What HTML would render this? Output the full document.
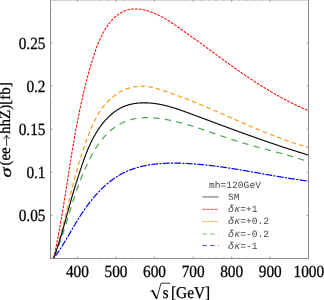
<!DOCTYPE html>
<html><head><meta charset="utf-8"><title>plot</title>
<style>
html,body{margin:0;padding:0;background:#fff;}
svg{display:block;will-change:transform;}
text{text-rendering:geometricPrecision;}
.t{font-family:"Liberation Serif",serif;font-size:15.3px;fill:#000;stroke:#000;stroke-width:0.25px;}
.a{font-family:"Liberation Serif",serif;font-size:15px;fill:#000;stroke:#000;stroke-width:0.25px;}
.m{font-family:"Liberation Mono",monospace;font-size:9.6px;fill:#484848;}
</style></head>
<body>
<svg width="324" height="300" viewBox="0 0 324 300">
<rect width="324" height="300" fill="#fff"/>
<path d="M77.40 258.45 v-1.9 M77.40 -0.15 v1.9 M115.97 258.45 v-1.9 M115.97 -0.15 v1.9 M154.54 258.45 v-1.9 M154.54 -0.15 v1.9 M193.11 258.45 v-1.9 M193.11 -0.15 v1.9 M231.68 258.45 v-1.9 M231.68 -0.15 v1.9 M270.25 258.45 v-1.9 M270.25 -0.15 v1.9 M50.55 215.41 h1.9 M308.55 215.41 h-1.9 M50.55 172.32 h1.9 M308.55 172.32 h-1.9 M50.55 129.23 h1.9 M308.55 129.23 h-1.9 M50.55 86.14 h1.9 M308.55 86.14 h-1.9 M50.55 43.05 h1.9 M308.55 43.05 h-1.9" stroke="#9a9a9a" stroke-width="1" fill="none"/>
<path d="M54.26 258.45 v-1.2 M54.26 -0.15 v1.2 M61.97 258.45 v-1.2 M61.97 -0.15 v1.2 M69.69 258.45 v-1.2 M69.69 -0.15 v1.2 M85.11 258.45 v-1.2 M85.11 -0.15 v1.2 M92.83 258.45 v-1.2 M92.83 -0.15 v1.2 M100.54 258.45 v-1.2 M100.54 -0.15 v1.2 M108.26 258.45 v-1.2 M108.26 -0.15 v1.2 M123.68 258.45 v-1.2 M123.68 -0.15 v1.2 M131.40 258.45 v-1.2 M131.40 -0.15 v1.2 M139.11 258.45 v-1.2 M139.11 -0.15 v1.2 M146.83 258.45 v-1.2 M146.83 -0.15 v1.2 M162.25 258.45 v-1.2 M162.25 -0.15 v1.2 M169.97 258.45 v-1.2 M169.97 -0.15 v1.2 M177.68 258.45 v-1.2 M177.68 -0.15 v1.2 M185.40 258.45 v-1.2 M185.40 -0.15 v1.2 M200.82 258.45 v-1.2 M200.82 -0.15 v1.2 M208.54 258.45 v-1.2 M208.54 -0.15 v1.2 M216.25 258.45 v-1.2 M216.25 -0.15 v1.2 M223.97 258.45 v-1.2 M223.97 -0.15 v1.2 M239.39 258.45 v-1.2 M239.39 -0.15 v1.2 M247.11 258.45 v-1.2 M247.11 -0.15 v1.2 M254.82 258.45 v-1.2 M254.82 -0.15 v1.2 M262.54 258.45 v-1.2 M262.54 -0.15 v1.2 M277.96 258.45 v-1.2 M277.96 -0.15 v1.2 M285.68 258.45 v-1.2 M285.68 -0.15 v1.2 M293.39 258.45 v-1.2 M293.39 -0.15 v1.2 M301.11 258.45 v-1.2 M301.11 -0.15 v1.2 M50.55 249.88 h1.2 M308.55 249.88 h-1.2 M50.55 241.26 h1.2 M308.55 241.26 h-1.2 M50.55 232.65 h1.2 M308.55 232.65 h-1.2 M50.55 224.03 h1.2 M308.55 224.03 h-1.2 M50.55 206.79 h1.2 M308.55 206.79 h-1.2 M50.55 198.17 h1.2 M308.55 198.17 h-1.2 M50.55 189.56 h1.2 M308.55 189.56 h-1.2 M50.55 180.94 h1.2 M308.55 180.94 h-1.2 M50.55 163.70 h1.2 M308.55 163.70 h-1.2 M50.55 155.08 h1.2 M308.55 155.08 h-1.2 M50.55 146.47 h1.2 M308.55 146.47 h-1.2 M50.55 137.85 h1.2 M308.55 137.85 h-1.2 M50.55 120.61 h1.2 M308.55 120.61 h-1.2 M50.55 111.99 h1.2 M308.55 111.99 h-1.2 M50.55 103.38 h1.2 M308.55 103.38 h-1.2 M50.55 94.76 h1.2 M308.55 94.76 h-1.2 M50.55 77.52 h1.2 M308.55 77.52 h-1.2 M50.55 68.90 h1.2 M308.55 68.90 h-1.2 M50.55 60.29 h1.2 M308.55 60.29 h-1.2 M50.55 51.67 h1.2 M308.55 51.67 h-1.2 M50.55 34.43 h1.2 M308.55 34.43 h-1.2 M50.55 25.81 h1.2 M308.55 25.81 h-1.2 M50.55 17.20 h1.2 M308.55 17.20 h-1.2 M50.55 8.58 h1.2 M308.55 8.58 h-1.2" stroke="#aaa" stroke-width="0.6" fill="none"/>
<path d="M53.87 257.95 L54.12 257.63 L54.37 257.31 L54.62 256.98 L54.86 256.66 L55.11 256.33 L55.35 256.01 L55.60 255.68 L55.84 255.35 L56.08 255.02 L56.32 254.69 L56.56 254.36 L56.80 254.02 L57.04 253.69 L57.27 253.35 L57.51 253.02 L57.75 252.68 L57.98 252.34 L58.22 252.00 L58.45 251.66 L58.68 251.32 L58.91 250.98 L59.14 250.64 L59.37 250.29 L59.60 249.95 L59.83 249.60 L60.06 249.26 L60.29 248.91 L60.52 248.56 L60.74 248.21 L60.97 247.86 L61.20 247.51 L61.42 247.16 L61.65 246.81 L61.87 246.46 L62.09 246.10 L62.32 245.75 L62.54 245.40 L62.76 245.04 L62.98 244.68 L63.20 244.33 L63.43 243.97 L63.65 243.61 L63.87 243.25 L64.09 242.89 L64.31 242.53 L64.52 242.17 L64.74 241.81 L64.96 241.45 L65.18 241.09 L65.40 240.73 L65.62 240.36 L65.83 240.00 L66.05 239.63 L66.27 239.27 L66.49 238.90 L66.70 238.54 L66.92 238.17 L67.14 237.81 L67.35 237.44 L67.57 237.07 L67.79 236.70 L68.00 236.34 L68.22 235.97 L68.43 235.60 L68.65 235.23 L68.87 234.86 L69.08 234.49 L69.30 234.12 L69.51 233.75 L69.73 233.38 L69.95 233.01 L70.16 232.64 L70.38 232.27 L70.60 231.89 L70.81 231.52 L71.03 231.15 L71.25 230.78 L71.47 230.41 L71.68 230.03 L71.90 229.66 L72.12 229.29 L72.34 228.91 L72.55 228.54 L72.77 228.17 L72.99 227.80 L73.21 227.42 L73.43 227.05 L73.65 226.68 L73.87 226.30 L74.09 225.93 L74.31 225.55 L74.53 225.18 L74.76 224.81 L74.98 224.43 L75.20 224.06 L75.43 223.69 L75.65 223.31 L75.87 222.94 L76.10 222.57 L76.32 222.20 L76.55 221.82 L76.78 221.45 L77.00 221.08 L77.23 220.71 L77.46 220.33 L77.69 219.96 L77.92 219.59 L78.15 219.22 L78.38 218.85 L78.61 218.48 L78.84 218.10 L79.07 217.73 L79.31 217.36 L79.54 216.99 L79.78 216.62 L80.01 216.25 L80.25 215.89 L80.48 215.52 L80.72 215.15 L80.96 214.78 L81.20 214.41 L81.44 214.05 L81.68 213.68 L81.93 213.31 L82.17 212.95 L82.41 212.58 L82.66 212.22 L82.90 211.85 L83.15 211.49 L83.40 211.12 L83.65 210.76 L83.90 210.40 L84.15 210.04 L84.40 209.67 L84.65 209.31 L84.90 208.95 L85.15 208.59 L85.41 208.23 L85.66 207.88 L85.92 207.52 L86.18 207.16 L86.44 206.80 L86.69 206.45 L86.95 206.09 L87.21 205.74 L87.47 205.39 L87.74 205.03 L88.00 204.68 L88.26 204.33 L88.53 203.98 L88.79 203.63 L89.06 203.28 L89.33 202.93 L89.60 202.58 L89.87 202.23 L90.14 201.89 L90.41 201.54 L90.68 201.20 L90.95 200.86 L91.23 200.51 L91.50 200.17 L91.78 199.83 L92.05 199.49 L92.33 199.15 L92.61 198.81 L92.89 198.48 L93.17 198.14 L93.45 197.81 L93.73 197.47 L94.01 197.14 L94.29 196.81 L94.58 196.48 L94.86 196.15 L95.15 195.82 L95.44 195.49 L95.73 195.16 L96.02 194.84 L96.31 194.51 L96.60 194.19 L96.89 193.87 L97.18 193.55 L97.47 193.23 L97.77 192.91 L98.06 192.59 L98.36 192.27 L98.66 191.96 L98.96 191.65 L99.26 191.33 L99.56 191.02 L99.86 190.71 L100.16 190.40 L100.46 190.10 L100.77 189.79 L101.07 189.49 L101.38 189.18 L101.68 188.88 L101.99 188.58 L102.30 188.28 L102.61 187.99 L102.92 187.69 L103.23 187.40 L103.54 187.10 L103.86 186.81 L104.17 186.52 L104.49 186.23 L104.80 185.94 L105.12 185.66 L105.44 185.37 L105.76 185.09 L106.08 184.81 L106.40 184.53 L106.72 184.25 L107.04 183.97 L107.37 183.70 L107.69 183.43 L108.02 183.15 L108.34 182.88 L108.67 182.62 L109.00 182.35 L109.33 182.08 L109.66 181.82 L109.99 181.56 L110.33 181.30 L110.66 181.04 L111.00 180.78 L111.33 180.53 L111.67 180.27 L112.01 180.02 L112.34 179.77 L112.68 179.53 L113.02 179.28 L113.37 179.04 L113.71 178.79 L114.05 178.55 L114.40 178.31 L114.74 178.08 L115.09 177.84 L115.44 177.61 L115.79 177.38 L116.13 177.15 L116.49 176.92 L116.84 176.70 L117.19 176.47 L117.54 176.25 L117.90 176.03 L118.25 175.81 L118.61 175.60 L118.97 175.39 L119.33 175.17 L119.69 174.96 L120.05 174.76 L120.41 174.55 L120.77 174.35 L121.14 174.15 L121.50 173.95 L121.87 173.75 L122.23 173.56 L122.60 173.37 L122.97 173.18 L123.34 172.99 L123.71 172.80 L124.08 172.62 L124.46 172.44 L124.83 172.26 L125.21 172.08 L125.58 171.90 L125.96 171.73 L126.34 171.56 L126.72 171.39 L127.10 171.22 L127.48 171.06 L127.86 170.89 L128.24 170.73 L128.62 170.57 L129.01 170.42 L129.39 170.26 L129.78 170.11 L130.17 169.96 L130.56 169.81 L130.94 169.66 L131.33 169.52 L131.72 169.37 L132.12 169.23 L132.51 169.09 L132.90 168.95 L133.29 168.82 L133.69 168.68 L134.09 168.55 L134.48 168.42 L134.88 168.29 L135.28 168.17 L135.68 168.04 L136.07 167.92 L136.47 167.80 L136.88 167.68 L137.28 167.56 L137.68 167.45 L138.08 167.33 L138.49 167.22 L138.89 167.11 L139.30 167.00 L139.70 166.90 L140.11 166.79 L140.52 166.69 L140.92 166.59 L141.33 166.49 L141.74 166.39 L142.15 166.29 L142.56 166.20 L142.97 166.10 L143.39 166.01 L143.80 165.92 L144.21 165.83 L144.63 165.75 L145.04 165.66 L145.46 165.58 L145.87 165.49 L146.29 165.41 L146.70 165.34 L147.12 165.26 L147.54 165.18 L147.96 165.11 L148.38 165.04 L148.79 164.96 L149.21 164.89 L149.64 164.83 L150.06 164.76 L150.48 164.69 L150.90 164.63 L151.32 164.57 L151.74 164.51 L152.17 164.45 L152.59 164.39 L153.02 164.33 L153.44 164.28 L153.87 164.22 L154.29 164.17 L154.72 164.12 L155.14 164.07 L155.57 164.02 L156.00 163.98 L156.43 163.93 L156.85 163.89 L157.28 163.84 L157.71 163.80 L158.14 163.76 L158.57 163.72 L159.00 163.68 L159.43 163.65 L159.86 163.61 L160.29 163.58 L160.72 163.54 L161.15 163.51 L161.58 163.48 L162.02 163.45 L162.45 163.42 L162.88 163.40 L163.31 163.37 L163.75 163.35 L164.18 163.32 L164.61 163.30 L165.05 163.28 L165.48 163.26 L165.92 163.24 L166.35 163.22 L166.79 163.21 L167.22 163.19 L167.66 163.18 L168.09 163.16 L168.53 163.15 L168.96 163.14 L169.40 163.13 L169.83 163.12 L170.27 163.11 L170.71 163.11 L171.14 163.10 L171.58 163.09 L172.01 163.09 L172.45 163.09 L172.89 163.08 L173.32 163.08 L173.76 163.08 L174.20 163.08 L174.64 163.08 L175.07 163.09 L175.51 163.09 L175.95 163.09 L176.38 163.10 L176.82 163.10 L177.26 163.11 L177.70 163.12 L178.13 163.13 L178.57 163.14 L179.01 163.15 L179.45 163.16 L179.88 163.17 L180.32 163.18 L180.76 163.19 L181.19 163.21 L181.63 163.22 L182.07 163.24 L182.51 163.25 L182.94 163.27 L183.38 163.29 L183.82 163.31 L184.25 163.33 L184.69 163.35 L185.13 163.37 L185.56 163.39 L186.00 163.41 L186.43 163.43 L186.87 163.45 L187.31 163.48 L187.74 163.50 L188.18 163.53 L188.61 163.55 L189.05 163.58 L189.48 163.61 L189.92 163.63 L190.35 163.66 L190.78 163.69 L191.22 163.72 L191.65 163.75 L192.09 163.78 L192.52 163.81 L192.95 163.84 L193.38 163.87 L193.82 163.90 L194.25 163.94 L194.68 163.97 L195.11 164.00 L195.55 164.04 L195.98 164.07 L196.41 164.11 L196.84 164.14 L197.27 164.18 L197.70 164.21 L198.13 164.25 L198.56 164.29 L199.00 164.33 L199.43 164.37 L199.86 164.41 L200.29 164.45 L200.71 164.49 L201.14 164.53 L201.57 164.57 L202.00 164.61 L202.43 164.65 L202.86 164.69 L203.29 164.74 L203.72 164.78 L204.15 164.82 L204.57 164.87 L205.00 164.91 L205.43 164.96 L205.86 165.00 L206.29 165.05 L206.71 165.10 L207.14 165.14 L207.57 165.19 L207.99 165.24 L208.42 165.29 L208.85 165.33 L209.27 165.38 L209.70 165.43 L210.13 165.48 L210.55 165.53 L210.98 165.58 L211.40 165.63 L211.83 165.69 L212.25 165.74 L212.68 165.79 L213.10 165.84 L213.53 165.89 L213.95 165.95 L214.38 166.00 L214.80 166.06 L215.23 166.11 L215.65 166.16 L216.08 166.22 L216.50 166.27 L216.92 166.33 L217.35 166.39 L217.77 166.44 L218.20 166.50 L218.62 166.56 L219.04 166.62 L219.47 166.67 L219.89 166.73 L220.31 166.79 L220.73 166.85 L221.16 166.91 L221.58 166.97 L222.00 167.03 L222.43 167.09 L222.85 167.15 L223.27 167.21 L223.69 167.27 L224.11 167.33 L224.54 167.39 L224.96 167.45 L225.38 167.52 L225.80 167.58 L226.22 167.64 L226.64 167.70 L227.07 167.77 L227.49 167.83 L227.91 167.89 L228.33 167.96 L228.75 168.02 L229.17 168.09 L229.59 168.15 L230.01 168.22 L230.43 168.28 L230.86 168.35 L231.28 168.41 L231.70 168.48 L232.12 168.55 L232.54 168.61 L232.96 168.68 L233.38 168.75 L233.80 168.81 L234.22 168.88 L234.64 168.95 L235.06 169.02 L235.48 169.09 L235.90 169.15 L236.32 169.22 L236.74 169.29 L237.16 169.36 L237.58 169.43 L238.00 169.50 L238.42 169.57 L238.84 169.64 L239.26 169.71 L239.68 169.78 L240.09 169.85 L240.51 169.92 L240.93 169.99 L241.35 170.06 L241.77 170.13 L242.19 170.20 L242.61 170.27 L243.03 170.34 L243.45 170.41 L243.87 170.49 L244.29 170.56 L244.71 170.63 L245.12 170.70 L245.54 170.77 L245.96 170.85 L246.38 170.92 L246.80 170.99 L247.22 171.06 L247.64 171.14 L248.06 171.21 L248.48 171.28 L248.89 171.35 L249.31 171.43 L249.73 171.50 L250.15 171.57 L250.57 171.65 L250.99 171.72 L251.41 171.79 L251.83 171.87 L252.24 171.94 L252.66 172.02 L253.08 172.09 L253.50 172.16 L253.92 172.24 L254.34 172.31 L254.76 172.39 L255.18 172.46 L255.60 172.53 L256.01 172.61 L256.43 172.68 L256.85 172.76 L257.27 172.83 L257.69 172.91 L258.11 172.98 L258.53 173.05 L258.95 173.13 L259.37 173.20 L259.78 173.28 L260.20 173.35 L260.62 173.43 L261.04 173.50 L261.46 173.58 L261.88 173.65 L262.30 173.73 L262.72 173.80 L263.14 173.88 L263.56 173.95 L263.98 174.02 L264.40 174.10 L264.81 174.17 L265.23 174.25 L265.65 174.32 L266.07 174.40 L266.49 174.47 L266.91 174.55 L267.33 174.62 L267.75 174.69 L268.17 174.77 L268.59 174.84 L269.01 174.92 L269.43 174.99 L269.85 175.06 L270.27 175.14 L270.69 175.21 L271.11 175.29 L271.53 175.36 L271.95 175.43 L272.37 175.51 L272.79 175.58 L273.21 175.65 L273.63 175.73 L274.06 175.80 L274.48 175.87 L274.90 175.95 L275.32 176.02 L275.74 176.09 L276.16 176.17 L276.58 176.24 L277.00 176.31 L277.42 176.38 L277.85 176.45 L278.27 176.53 L278.69 176.60 L279.11 176.67 L279.53 176.74 L279.95 176.81 L280.38 176.89 L280.80 176.96 L281.22 177.03 L281.64 177.10 L282.06 177.17 L282.49 177.24 L282.91 177.31 L283.33 177.38 L283.76 177.45 L284.18 177.52 L284.60 177.59 L285.02 177.66 L285.45 177.73 L285.87 177.80 L286.29 177.87 L286.72 177.94 L287.14 178.01 L287.57 178.08 L287.99 178.14 L288.41 178.21 L288.84 178.28 L289.26 178.35 L289.69 178.41 L290.11 178.48 L290.54 178.55 L290.96 178.62 L291.39 178.68 L291.81 178.75 L292.24 178.81 L292.66 178.88 L293.09 178.95 L293.51 179.01 L293.94 179.08 L294.37 179.14 L294.79 179.21 L295.22 179.27 L295.64 179.33 L296.07 179.40 L296.50 179.46 L296.92 179.53 L297.35 179.59 L297.78 179.65 L298.21 179.71 L298.63 179.78 L299.06 179.84 L299.49 179.90 L299.92 179.96 L300.35 180.02 L300.77 180.08 L301.20 180.14 L301.63 180.20 L302.06 180.26 L302.49 180.32 L302.92 180.38 L303.35 180.44 L303.78 180.50 L304.21 180.56 L304.64 180.62 L305.07 180.67 L305.50 180.73 L305.93 180.79 L306.36 180.84 L306.79 180.90 L307.22 180.96 L307.65 181.01 L308.08 181.07 L308.51 181.12" fill="none" stroke="#0000ff" stroke-width="1.2" stroke-dasharray="6.8 1.3 2.1 1.3" stroke-dashoffset="-2.6"/>
<path d="M53.69 258.00 L53.89 257.68 L54.09 257.21 L54.28 256.74 L54.48 256.28 L54.67 255.81 L54.87 255.34 L55.06 254.87 L55.25 254.40 L55.44 253.93 L55.63 253.46 L55.82 253.00 L56.01 252.53 L56.20 252.06 L56.38 251.59 L56.57 251.12 L56.75 250.65 L56.94 250.18 L57.12 249.72 L57.30 249.25 L57.48 248.78 L57.66 248.31 L57.83 247.84 L58.01 247.37 L58.19 246.90 L58.36 246.43 L58.54 245.96 L58.71 245.50 L58.88 245.03 L59.06 244.56 L59.23 244.09 L59.40 243.62 L59.57 243.15 L59.74 242.68 L59.90 242.21 L60.07 241.74 L60.24 241.27 L60.40 240.80 L60.57 240.34 L60.73 239.87 L60.90 239.40 L61.06 238.93 L61.22 238.46 L61.38 237.99 L61.54 237.52 L61.71 237.05 L61.87 236.58 L62.02 236.11 L62.18 235.64 L62.34 235.17 L62.50 234.70 L62.66 234.24 L62.81 233.77 L62.97 233.30 L63.12 232.83 L63.28 232.36 L63.43 231.89 L63.59 231.42 L63.74 230.95 L63.89 230.48 L64.05 230.01 L64.20 229.54 L64.35 229.07 L64.50 228.60 L64.65 228.13 L64.80 227.66 L64.95 227.20 L65.10 226.73 L65.25 226.26 L65.40 225.79 L65.55 225.32 L65.70 224.85 L65.85 224.38 L65.99 223.91 L66.14 223.44 L66.29 222.97 L66.44 222.50 L66.58 222.03 L66.73 221.56 L66.88 221.09 L67.02 220.62 L67.17 220.15 L67.32 219.69 L67.46 219.22 L67.61 218.75 L67.76 218.28 L67.90 217.81 L68.05 217.34 L68.19 216.87 L68.34 216.40 L68.48 215.93 L68.63 215.46 L68.77 214.99 L68.92 214.52 L69.06 214.05 L69.21 213.58 L69.35 213.11 L69.50 212.65 L69.65 212.18 L69.79 211.71 L69.94 211.24 L70.08 210.77 L70.23 210.30 L70.37 209.83 L70.52 209.36 L70.67 208.89 L70.81 208.42 L70.96 207.95 L71.10 207.48 L71.25 207.01 L71.40 206.55 L71.55 206.08 L71.69 205.61 L71.84 205.14 L71.99 204.67 L72.14 204.20 L72.28 203.73 L72.43 203.26 L72.58 202.79 L72.73 202.32 L72.88 201.86 L73.03 201.39 L73.18 200.92 L73.33 200.45 L73.48 199.98 L73.63 199.51 L73.79 199.04 L73.94 198.57 L74.09 198.11 L74.24 197.64 L74.40 197.17 L74.55 196.70 L74.71 196.23 L74.86 195.76 L75.02 195.29 L75.17 194.82 L75.33 194.36 L75.49 193.89 L75.64 193.42 L75.80 192.95 L75.96 192.48 L76.12 192.01 L76.28 191.55 L76.44 191.08 L76.60 190.61 L76.76 190.14 L76.93 189.67 L77.09 189.20 L77.25 188.74 L77.42 188.27 L77.58 187.80 L77.75 187.33 L77.92 186.86 L78.08 186.40 L78.25 185.93 L78.42 185.46 L78.59 184.99 L78.76 184.52 L78.93 184.06 L79.10 183.59 L79.28 183.12 L79.45 182.65 L79.63 182.18 L79.80 181.72 L79.98 181.25 L80.16 180.78 L80.33 180.31 L80.51 179.85 L80.69 179.38 L80.87 178.91 L81.06 178.44 L81.24 177.98 L81.42 177.51 L81.61 177.04 L81.79 176.57 L81.98 176.11 L82.17 175.64 L82.36 175.17 L82.55 174.71 L82.74 174.24 L82.93 173.77 L83.12 173.31 L83.32 172.84 L83.51 172.37 L83.71 171.90 L83.91 171.44 L84.11 170.97 L84.31 170.50 L84.51 170.04 L84.71 169.57 L84.92 169.11 L85.12 168.64 L85.33 168.17 L85.54 167.71 L85.74 167.24 L85.95 166.77 L86.17 166.31 L86.38 165.84 L86.59 165.37 L86.81 164.91 L87.02 164.44 L87.24 163.98 L87.46 163.51 L87.68 163.05 L87.90 162.58 L88.13 162.12 L88.35 161.66 L88.58 161.19 L88.81 160.73 L89.04 160.27 L89.27 159.81 L89.50 159.34 L89.73 158.88 L89.97 158.42 L90.20 157.97 L90.44 157.51 L90.68 157.05 L90.92 156.59 L91.17 156.14 L91.41 155.68 L91.66 155.23 L91.90 154.78 L92.15 154.32 L92.40 153.87 L92.66 153.42 L92.91 152.97 L93.17 152.53 L93.42 152.08 L93.68 151.64 L93.94 151.19 L94.21 150.75 L94.47 150.31 L94.74 149.87 L95.01 149.43 L95.28 149.00 L95.55 148.56 L95.82 148.13 L96.09 147.70 L96.37 147.27 L96.65 146.84 L96.93 146.41 L97.21 145.99 L97.50 145.56 L97.78 145.14 L98.07 144.72 L98.36 144.31 L98.65 143.89 L98.95 143.48 L99.24 143.07 L99.54 142.66 L99.84 142.25 L100.14 141.84 L100.45 141.44 L100.75 141.04 L101.06 140.64 L101.37 140.25 L101.68 139.85 L101.99 139.46 L102.31 139.07 L102.63 138.69 L102.95 138.30 L103.27 137.92 L103.59 137.55 L103.92 137.17 L104.25 136.80 L104.58 136.43 L104.91 136.06 L105.25 135.69 L105.59 135.33 L105.93 134.97 L106.27 134.61 L106.61 134.26 L106.96 133.91 L107.31 133.56 L107.66 133.22 L108.01 132.88 L108.36 132.54 L108.72 132.20 L109.08 131.87 L109.44 131.54 L109.81 131.22 L110.18 130.89 L110.55 130.58 L110.92 130.26 L111.29 129.95 L111.67 129.64 L112.05 129.33 L112.43 129.03 L112.81 128.73 L113.20 128.44 L113.59 128.15 L113.98 127.86 L114.37 127.58 L114.77 127.30 L115.16 127.02 L115.56 126.75 L115.96 126.48 L116.37 126.21 L116.77 125.95 L117.18 125.69 L117.59 125.44 L118.00 125.19 L118.42 124.94 L118.83 124.70 L119.25 124.46 L119.67 124.22 L120.09 123.99 L120.52 123.77 L120.94 123.54 L121.37 123.32 L121.80 123.11 L122.23 122.90 L122.66 122.69 L123.10 122.49 L123.53 122.29 L123.97 122.09 L124.41 121.90 L124.85 121.71 L125.30 121.53 L125.74 121.35 L126.19 121.18 L126.64 121.01 L127.09 120.84 L127.54 120.68 L127.99 120.52 L128.44 120.37 L128.90 120.22 L129.36 120.08 L129.81 119.94 L130.27 119.80 L130.74 119.67 L131.20 119.55 L131.66 119.43 L132.13 119.31 L132.59 119.19 L133.06 119.09 L133.53 118.98 L134.00 118.88 L134.47 118.78 L134.94 118.69 L135.42 118.60 L135.89 118.52 L136.37 118.44 L136.85 118.36 L137.32 118.29 L137.80 118.22 L138.28 118.16 L138.76 118.10 L139.25 118.04 L139.73 117.99 L140.21 117.94 L140.70 117.90 L141.18 117.85 L141.67 117.82 L142.16 117.78 L142.65 117.75 L143.14 117.72 L143.63 117.70 L144.12 117.68 L144.61 117.66 L145.10 117.65 L145.59 117.63 L146.09 117.63 L146.58 117.62 L147.07 117.62 L147.57 117.62 L148.06 117.63 L148.56 117.64 L149.06 117.65 L149.55 117.66 L150.05 117.68 L150.55 117.70 L151.05 117.72 L151.55 117.74 L152.05 117.77 L152.55 117.80 L153.05 117.84 L153.55 117.87 L154.05 117.91 L154.55 117.95 L155.05 118.00 L155.55 118.04 L156.05 118.09 L156.55 118.14 L157.06 118.20 L157.56 118.25 L158.06 118.31 L158.56 118.37 L159.06 118.43 L159.57 118.50 L160.07 118.56 L160.57 118.63 L161.07 118.70 L161.58 118.78 L162.08 118.85 L162.58 118.93 L163.08 119.01 L163.58 119.09 L164.08 119.17 L164.59 119.26 L165.09 119.34 L165.59 119.43 L166.09 119.52 L166.59 119.61 L167.09 119.70 L167.59 119.80 L168.09 119.89 L168.59 119.99 L169.08 120.09 L169.58 120.19 L170.08 120.29 L170.58 120.39 L171.08 120.49 L171.57 120.60 L172.07 120.71 L172.57 120.81 L173.06 120.92 L173.56 121.04 L174.05 121.15 L174.55 121.26 L175.04 121.38 L175.54 121.49 L176.03 121.61 L176.53 121.73 L177.02 121.85 L177.51 121.97 L178.01 122.09 L178.50 122.22 L178.99 122.34 L179.48 122.47 L179.98 122.59 L180.47 122.72 L180.96 122.85 L181.45 122.98 L181.94 123.11 L182.43 123.24 L182.92 123.38 L183.41 123.51 L183.90 123.65 L184.39 123.78 L184.88 123.92 L185.37 124.06 L185.86 124.20 L186.35 124.34 L186.84 124.48 L187.32 124.62 L187.81 124.76 L188.30 124.91 L188.79 125.05 L189.27 125.20 L189.76 125.34 L190.25 125.49 L190.73 125.64 L191.22 125.78 L191.70 125.93 L192.19 126.08 L192.67 126.23 L193.16 126.39 L193.64 126.54 L194.13 126.69 L194.61 126.84 L195.10 127.00 L195.58 127.15 L196.07 127.31 L196.55 127.46 L197.03 127.62 L197.52 127.78 L198.00 127.93 L198.48 128.09 L198.96 128.25 L199.45 128.41 L199.93 128.57 L200.41 128.73 L200.89 128.89 L201.37 129.05 L201.85 129.21 L202.33 129.37 L202.82 129.53 L203.30 129.70 L203.78 129.86 L204.26 130.02 L204.74 130.18 L205.22 130.35 L205.70 130.51 L206.18 130.68 L206.66 130.84 L207.14 131.01 L207.61 131.17 L208.09 131.34 L208.57 131.50 L209.05 131.67 L209.53 131.83 L210.01 132.00 L210.49 132.16 L210.96 132.33 L211.44 132.49 L211.92 132.66 L212.40 132.83 L212.87 132.99 L213.35 133.16 L213.83 133.33 L214.31 133.49 L214.78 133.66 L215.26 133.82 L215.74 133.99 L216.21 134.16 L216.69 134.32 L217.16 134.49 L217.64 134.65 L218.12 134.82 L218.59 134.99 L219.07 135.15 L219.54 135.32 L220.02 135.48 L220.49 135.65 L220.97 135.81 L221.44 135.98 L221.92 136.14 L222.39 136.30 L222.87 136.47 L223.34 136.63 L223.82 136.79 L224.29 136.96 L224.77 137.12 L225.24 137.28 L225.72 137.44 L226.19 137.60 L226.66 137.76 L227.14 137.92 L227.61 138.08 L228.09 138.24 L228.56 138.40 L229.03 138.56 L229.51 138.72 L229.98 138.87 L230.45 139.03 L230.93 139.19 L231.40 139.34 L231.87 139.50 L232.35 139.65 L232.82 139.81 L233.29 139.96 L233.76 140.11 L234.24 140.26 L234.71 140.41 L235.18 140.56 L235.66 140.71 L236.13 140.86 L236.60 141.01 L237.07 141.16 L237.55 141.31 L238.02 141.45 L238.49 141.60 L238.96 141.74 L239.44 141.89 L239.91 142.03 L240.38 142.17 L240.85 142.32 L241.33 142.46 L241.80 142.60 L242.27 142.74 L242.74 142.88 L243.21 143.02 L243.69 143.16 L244.16 143.30 L244.63 143.44 L245.10 143.57 L245.58 143.71 L246.05 143.85 L246.52 143.98 L246.99 144.12 L247.46 144.25 L247.94 144.39 L248.41 144.52 L248.88 144.66 L249.35 144.79 L249.82 144.92 L250.30 145.06 L250.77 145.19 L251.24 145.32 L251.71 145.45 L252.19 145.58 L252.66 145.71 L253.13 145.84 L253.60 145.97 L254.07 146.10 L254.55 146.23 L255.02 146.36 L255.49 146.49 L255.96 146.62 L256.44 146.75 L256.91 146.88 L257.38 147.01 L257.85 147.13 L258.33 147.26 L258.80 147.39 L259.27 147.52 L259.75 147.64 L260.22 147.77 L260.69 147.90 L261.17 148.03 L261.64 148.15 L262.11 148.28 L262.58 148.41 L263.06 148.53 L263.53 148.66 L264.00 148.78 L264.48 148.91 L264.95 149.04 L265.43 149.16 L265.90 149.29 L266.37 149.42 L266.85 149.54 L267.32 149.67 L267.80 149.79 L268.27 149.92 L268.74 150.05 L269.22 150.17 L269.69 150.30 L270.17 150.43 L270.64 150.55 L271.12 150.68 L271.59 150.81 L272.07 150.94 L272.54 151.06 L273.02 151.19 L273.49 151.32 L273.97 151.44 L274.44 151.57 L274.92 151.70 L275.39 151.83 L275.87 151.96 L276.35 152.09 L276.82 152.22 L277.30 152.35 L277.77 152.47 L278.25 152.60 L278.73 152.73 L279.20 152.87 L279.68 153.00 L280.16 153.13 L280.64 153.26 L281.11 153.39 L281.59 153.52 L282.07 153.65 L282.55 153.79 L283.02 153.92 L283.50 154.05 L283.98 154.19 L284.46 154.32 L284.94 154.46 L285.42 154.59 L285.90 154.73 L286.37 154.87 L286.85 155.00 L287.33 155.14 L287.81 155.28 L288.29 155.42 L288.77 155.55 L289.25 155.69 L289.73 155.83 L290.21 155.97 L290.69 156.11 L291.17 156.26 L291.66 156.40 L292.14 156.54 L292.62 156.68 L293.10 156.83 L293.58 156.97 L294.06 157.12 L294.55 157.26 L295.03 157.41 L295.51 157.56 L295.99 157.71 L296.48 157.86 L296.96 158.00 L297.44 158.15 L297.93 158.31 L298.41 158.46 L298.90 158.61 L299.38 158.76 L299.86 158.92 L300.35 159.07 L300.83 159.23 L301.32 159.38 L301.81 159.54 L302.29 159.70 L302.78 159.86 L303.26 160.02 L303.75 160.18 L304.24 160.34 L304.72 160.50 L305.21 160.67 L305.70 160.83 L306.19 161.00 L306.67 161.16 L307.16 161.33 L307.65 161.50 L308.14 161.67" fill="none" stroke="#4da64d" stroke-width="1.2" stroke-dasharray="6.4 5.2" stroke-dashoffset="-1.1"/>
<path d="M53.68 257.98 L53.85 257.48 L54.03 256.97 L54.20 256.46 L54.38 255.95 L54.55 255.44 L54.72 254.93 L54.89 254.42 L55.06 253.91 L55.23 253.39 L55.40 252.88 L55.57 252.36 L55.73 251.85 L55.90 251.33 L56.06 250.82 L56.23 250.30 L56.39 249.78 L56.55 249.26 L56.71 248.74 L56.87 248.22 L57.03 247.70 L57.19 247.18 L57.35 246.66 L57.51 246.14 L57.66 245.62 L57.82 245.09 L57.98 244.57 L58.13 244.05 L58.28 243.52 L58.44 242.99 L58.59 242.47 L58.74 241.94 L58.89 241.42 L59.04 240.89 L59.19 240.36 L59.34 239.83 L59.48 239.30 L59.63 238.77 L59.78 238.24 L59.92 237.71 L60.07 237.18 L60.21 236.65 L60.36 236.12 L60.50 235.59 L60.65 235.06 L60.79 234.53 L60.93 233.99 L61.07 233.46 L61.21 232.93 L61.35 232.39 L61.49 231.86 L61.63 231.33 L61.77 230.79 L61.91 230.26 L62.05 229.72 L62.18 229.19 L62.32 228.65 L62.46 228.12 L62.59 227.58 L62.73 227.04 L62.86 226.51 L63.00 225.97 L63.13 225.43 L63.27 224.90 L63.40 224.36 L63.54 223.82 L63.67 223.28 L63.80 222.75 L63.93 222.21 L64.07 221.67 L64.20 221.13 L64.33 220.59 L64.46 220.06 L64.59 219.52 L64.72 218.98 L64.85 218.44 L64.98 217.90 L65.11 217.36 L65.24 216.83 L65.37 216.29 L65.50 215.75 L65.63 215.21 L65.76 214.67 L65.89 214.13 L66.02 213.59 L66.14 213.06 L66.27 212.52 L66.40 211.98 L66.53 211.44 L66.66 210.90 L66.78 210.36 L66.91 209.83 L67.04 209.29 L67.17 208.75 L67.29 208.21 L67.42 207.68 L67.55 207.14 L67.68 206.60 L67.80 206.06 L67.93 205.53 L68.06 204.99 L68.19 204.45 L68.31 203.92 L68.44 203.38 L68.57 202.85 L68.70 202.31 L68.82 201.78 L68.95 201.24 L69.08 200.71 L69.21 200.17 L69.34 199.64 L69.46 199.10 L69.59 198.57 L69.72 198.04 L69.85 197.50 L69.98 196.97 L70.11 196.44 L70.23 195.91 L70.36 195.37 L70.49 194.84 L70.62 194.31 L70.75 193.78 L70.88 193.25 L71.01 192.72 L71.14 192.19 L71.27 191.66 L71.41 191.13 L71.54 190.61 L71.67 190.08 L71.80 189.55 L71.93 189.02 L72.06 188.50 L72.20 187.97 L72.33 187.44 L72.46 186.92 L72.60 186.39 L72.73 185.86 L72.86 185.34 L73.00 184.81 L73.13 184.29 L73.27 183.76 L73.41 183.24 L73.54 182.72 L73.68 182.19 L73.81 181.67 L73.95 181.14 L74.09 180.62 L74.23 180.10 L74.36 179.57 L74.50 179.05 L74.64 178.53 L74.78 178.01 L74.92 177.48 L75.06 176.96 L75.20 176.44 L75.34 175.92 L75.49 175.40 L75.63 174.88 L75.77 174.35 L75.91 173.83 L76.06 173.31 L76.20 172.79 L76.35 172.27 L76.49 171.75 L76.64 171.23 L76.78 170.71 L76.93 170.19 L77.08 169.67 L77.23 169.15 L77.37 168.63 L77.52 168.11 L77.67 167.59 L77.82 167.07 L77.97 166.55 L78.12 166.02 L78.28 165.50 L78.43 164.98 L78.58 164.46 L78.73 163.94 L78.89 163.42 L79.04 162.90 L79.20 162.38 L79.36 161.86 L79.51 161.34 L79.67 160.82 L79.83 160.30 L79.99 159.78 L80.15 159.26 L80.31 158.74 L80.47 158.22 L80.63 157.70 L80.79 157.18 L80.95 156.66 L81.12 156.14 L81.28 155.62 L81.45 155.10 L81.61 154.58 L81.78 154.06 L81.95 153.53 L82.12 153.01 L82.28 152.49 L82.45 151.97 L82.62 151.45 L82.80 150.93 L82.97 150.40 L83.14 149.88 L83.32 149.36 L83.49 148.84 L83.66 148.31 L83.84 147.79 L84.02 147.27 L84.20 146.74 L84.37 146.22 L84.55 145.70 L84.74 145.17 L84.92 144.65 L85.10 144.12 L85.28 143.60 L85.47 143.07 L85.65 142.55 L85.84 142.02 L86.02 141.50 L86.21 140.97 L86.40 140.44 L86.59 139.92 L86.78 139.39 L86.97 138.86 L87.16 138.33 L87.36 137.81 L87.55 137.28 L87.75 136.75 L87.95 136.23 L88.14 135.70 L88.34 135.17 L88.55 134.64 L88.75 134.12 L88.95 133.59 L89.16 133.07 L89.36 132.54 L89.57 132.02 L89.78 131.49 L89.99 130.97 L90.21 130.44 L90.42 129.92 L90.64 129.40 L90.85 128.88 L91.07 128.36 L91.29 127.84 L91.52 127.32 L91.74 126.80 L91.97 126.29 L92.20 125.77 L92.43 125.26 L92.66 124.74 L92.90 124.23 L93.13 123.72 L93.37 123.21 L93.61 122.70 L93.86 122.20 L94.10 121.69 L94.35 121.19 L94.60 120.69 L94.85 120.19 L95.10 119.69 L95.36 119.19 L95.62 118.69 L95.88 118.20 L96.15 117.71 L96.41 117.22 L96.68 116.73 L96.95 116.25 L97.23 115.76 L97.51 115.28 L97.79 114.80 L98.07 114.32 L98.35 113.85 L98.64 113.37 L98.93 112.90 L99.23 112.44 L99.52 111.97 L99.82 111.51 L100.13 111.05 L100.43 110.59 L100.74 110.13 L101.05 109.68 L101.37 109.23 L101.69 108.78 L102.01 108.34 L102.33 107.90 L102.66 107.46 L102.99 107.02 L103.33 106.59 L103.66 106.16 L104.01 105.74 L104.35 105.31 L104.70 104.89 L105.05 104.48 L105.41 104.06 L105.76 103.65 L106.13 103.25 L106.49 102.84 L106.86 102.45 L107.24 102.05 L107.61 101.66 L108.00 101.27 L108.38 100.88 L108.77 100.50 L109.16 100.13 L109.55 99.75 L109.95 99.38 L110.35 99.02 L110.76 98.66 L111.17 98.30 L111.58 97.95 L111.99 97.60 L112.41 97.25 L112.83 96.91 L113.26 96.57 L113.68 96.24 L114.11 95.92 L114.54 95.59 L114.98 95.27 L115.42 94.96 L115.86 94.65 L116.30 94.35 L116.75 94.05 L117.20 93.75 L117.65 93.46 L118.11 93.18 L118.56 92.89 L119.02 92.62 L119.49 92.35 L119.95 92.08 L120.42 91.82 L120.89 91.57 L121.36 91.32 L121.83 91.07 L122.31 90.83 L122.78 90.60 L123.26 90.37 L123.75 90.15 L124.23 89.93 L124.72 89.72 L125.20 89.51 L125.69 89.31 L126.19 89.12 L126.68 88.93 L127.18 88.74 L127.67 88.57 L128.17 88.39 L128.67 88.23 L129.17 88.07 L129.68 87.92 L130.18 87.77 L130.69 87.63 L131.20 87.49 L131.71 87.36 L132.22 87.24 L132.73 87.12 L133.24 87.01 L133.76 86.91 L134.27 86.81 L134.79 86.72 L135.31 86.64 L135.82 86.56 L136.34 86.49 L136.87 86.43 L137.39 86.37 L137.91 86.33 L138.43 86.28 L138.96 86.25 L139.48 86.22 L140.01 86.20 L140.53 86.18 L141.06 86.17 L141.59 86.17 L142.12 86.18 L142.64 86.19 L143.17 86.21 L143.70 86.24 L144.23 86.27 L144.76 86.31 L145.29 86.36 L145.83 86.41 L146.36 86.47 L146.89 86.53 L147.42 86.60 L147.96 86.68 L148.49 86.75 L149.02 86.84 L149.56 86.93 L150.09 87.03 L150.63 87.12 L151.16 87.23 L151.70 87.34 L152.23 87.45 L152.77 87.57 L153.31 87.69 L153.84 87.82 L154.38 87.95 L154.92 88.08 L155.45 88.22 L155.99 88.36 L156.53 88.51 L157.07 88.65 L157.60 88.80 L158.14 88.96 L158.68 89.11 L159.22 89.27 L159.75 89.44 L160.29 89.60 L160.83 89.77 L161.37 89.94 L161.91 90.11 L162.44 90.28 L162.98 90.46 L163.52 90.63 L164.06 90.81 L164.59 90.99 L165.13 91.17 L165.67 91.35 L166.21 91.54 L166.74 91.72 L167.28 91.90 L167.82 92.09 L168.35 92.27 L168.89 92.46 L169.43 92.65 L169.96 92.84 L170.50 93.02 L171.03 93.21 L171.57 93.40 L172.10 93.59 L172.64 93.78 L173.17 93.97 L173.70 94.17 L174.24 94.36 L174.77 94.55 L175.30 94.74 L175.83 94.94 L176.37 95.13 L176.90 95.33 L177.43 95.52 L177.96 95.72 L178.49 95.91 L179.02 96.11 L179.54 96.31 L180.07 96.50 L180.60 96.70 L181.13 96.90 L181.65 97.10 L182.18 97.30 L182.70 97.50 L183.23 97.70 L183.75 97.90 L184.28 98.10 L184.80 98.30 L185.32 98.50 L185.84 98.71 L186.37 98.91 L186.89 99.11 L187.41 99.32 L187.93 99.52 L188.45 99.72 L188.97 99.93 L189.49 100.13 L190.00 100.34 L190.52 100.54 L191.04 100.75 L191.56 100.96 L192.07 101.16 L192.59 101.37 L193.10 101.58 L193.62 101.78 L194.13 101.99 L194.65 102.20 L195.16 102.41 L195.67 102.62 L196.19 102.83 L196.70 103.04 L197.21 103.25 L197.72 103.46 L198.23 103.67 L198.75 103.88 L199.26 104.09 L199.77 104.30 L200.28 104.51 L200.79 104.72 L201.30 104.94 L201.80 105.15 L202.31 105.36 L202.82 105.57 L203.33 105.79 L203.84 106.00 L204.34 106.21 L204.85 106.43 L205.36 106.64 L205.86 106.85 L206.37 107.07 L206.87 107.28 L207.38 107.50 L207.88 107.71 L208.39 107.93 L208.89 108.14 L209.40 108.36 L209.90 108.57 L210.40 108.79 L210.91 109.00 L211.41 109.22 L211.91 109.44 L212.42 109.65 L212.92 109.87 L213.42 110.09 L213.92 110.30 L214.42 110.52 L214.92 110.74 L215.43 110.95 L215.93 111.17 L216.43 111.39 L216.93 111.61 L217.43 111.82 L217.93 112.04 L218.43 112.26 L218.93 112.48 L219.43 112.69 L219.93 112.91 L220.43 113.13 L220.92 113.35 L221.42 113.57 L221.92 113.79 L222.42 114.00 L222.92 114.22 L223.42 114.44 L223.92 114.66 L224.41 114.88 L224.91 115.10 L225.41 115.31 L225.91 115.53 L226.40 115.75 L226.90 115.97 L227.40 116.19 L227.90 116.41 L228.39 116.62 L228.89 116.84 L229.39 117.06 L229.89 117.28 L230.38 117.50 L230.88 117.72 L231.38 117.94 L231.87 118.15 L232.37 118.37 L232.87 118.59 L233.36 118.81 L233.86 119.03 L234.36 119.24 L234.85 119.46 L235.35 119.68 L235.85 119.90 L236.34 120.12 L236.84 120.33 L237.34 120.55 L237.83 120.77 L238.33 120.99 L238.83 121.20 L239.32 121.42 L239.82 121.64 L240.32 121.85 L240.81 122.07 L241.31 122.29 L241.81 122.50 L242.30 122.72 L242.80 122.94 L243.30 123.15 L243.79 123.37 L244.29 123.58 L244.79 123.80 L245.29 124.01 L245.78 124.23 L246.28 124.44 L246.78 124.66 L247.28 124.87 L247.77 125.09 L248.27 125.30 L248.77 125.52 L249.27 125.73 L249.77 125.94 L250.26 126.16 L250.76 126.37 L251.26 126.58 L251.76 126.79 L252.26 127.01 L252.76 127.22 L253.26 127.43 L253.76 127.64 L254.26 127.85 L254.76 128.07 L255.26 128.28 L255.76 128.49 L256.26 128.70 L256.76 128.91 L257.26 129.12 L257.76 129.33 L258.26 129.54 L258.76 129.74 L259.27 129.95 L259.77 130.16 L260.27 130.37 L260.77 130.58 L261.28 130.78 L261.78 130.99 L262.28 131.20 L262.79 131.40 L263.29 131.61 L263.79 131.81 L264.30 132.02 L264.80 132.22 L265.31 132.43 L265.81 132.63 L266.32 132.84 L266.82 133.04 L267.33 133.24 L267.84 133.44 L268.34 133.65 L268.85 133.85 L269.36 134.05 L269.86 134.25 L270.37 134.45 L270.88 134.65 L271.39 134.85 L271.90 135.05 L272.41 135.25 L272.92 135.45 L273.43 135.64 L273.94 135.84 L274.45 136.04 L274.96 136.24 L275.47 136.43 L275.99 136.63 L276.50 136.82 L277.01 137.02 L277.52 137.21 L278.04 137.40 L278.55 137.60 L279.07 137.79 L279.58 137.98 L280.10 138.17 L280.61 138.36 L281.13 138.56 L281.65 138.75 L282.16 138.93 L282.68 139.12 L283.20 139.31 L283.72 139.50 L284.24 139.69 L284.76 139.87 L285.28 140.06 L285.80 140.25 L286.32 140.43 L286.84 140.62 L287.36 140.80 L287.89 140.98 L288.41 141.17 L288.93 141.35 L289.46 141.53 L289.98 141.71 L290.51 141.89 L291.03 142.07 L291.56 142.25 L292.09 142.43 L292.61 142.61 L293.14 142.78 L293.67 142.96 L294.20 143.14 L294.73 143.31 L295.26 143.49 L295.79 143.66 L296.32 143.83 L296.85 144.01 L297.39 144.18 L297.92 144.35 L298.45 144.52 L298.99 144.69 L299.52 144.86 L300.06 145.03 L300.59 145.20 L301.13 145.36 L301.67 145.53 L302.21 145.70 L302.75 145.86 L303.29 146.03 L303.83 146.19 L304.37 146.35 L304.91 146.52 L305.45 146.68 L305.99 146.84 L306.54 147.00 L307.08 147.16 L307.63 147.32 L308.17 147.47" fill="none" stroke="#ff9a1a" stroke-width="1.2" stroke-dasharray="4.7 3.0" stroke-dashoffset="4.0"/>
<path d="M53.72 258.00 L53.87 257.34 L54.01 256.68 L54.16 256.02 L54.30 255.36 L54.45 254.70 L54.59 254.03 L54.73 253.37 L54.88 252.71 L55.02 252.04 L55.16 251.38 L55.30 250.72 L55.44 250.05 L55.57 249.39 L55.71 248.73 L55.85 248.06 L55.99 247.40 L56.12 246.73 L56.26 246.07 L56.39 245.40 L56.52 244.74 L56.66 244.07 L56.79 243.40 L56.92 242.74 L57.06 242.07 L57.19 241.41 L57.32 240.74 L57.45 240.07 L57.58 239.41 L57.70 238.74 L57.83 238.07 L57.96 237.40 L58.09 236.74 L58.21 236.07 L58.34 235.40 L58.47 234.73 L58.59 234.07 L58.72 233.40 L58.84 232.73 L58.96 232.06 L59.09 231.39 L59.21 230.72 L59.33 230.05 L59.45 229.39 L59.57 228.72 L59.70 228.05 L59.82 227.38 L59.94 226.71 L60.06 226.04 L60.17 225.37 L60.29 224.70 L60.41 224.03 L60.53 223.36 L60.65 222.69 L60.76 222.02 L60.88 221.35 L61.00 220.68 L61.11 220.01 L61.23 219.33 L61.34 218.66 L61.46 217.99 L61.57 217.32 L61.69 216.65 L61.80 215.98 L61.91 215.31 L62.03 214.63 L62.14 213.96 L62.25 213.29 L62.36 212.62 L62.48 211.95 L62.59 211.28 L62.70 210.60 L62.81 209.93 L62.92 209.26 L63.03 208.59 L63.14 207.91 L63.25 207.24 L63.36 206.57 L63.47 205.90 L63.58 205.22 L63.69 204.55 L63.80 203.88 L63.91 203.21 L64.02 202.53 L64.12 201.86 L64.23 201.19 L64.34 200.51 L64.45 199.84 L64.55 199.17 L64.66 198.49 L64.77 197.82 L64.88 197.15 L64.98 196.47 L65.09 195.80 L65.20 195.13 L65.30 194.45 L65.41 193.78 L65.51 193.11 L65.62 192.43 L65.73 191.76 L65.83 191.09 L65.94 190.41 L66.04 189.74 L66.15 189.06 L66.25 188.39 L66.36 187.72 L66.46 187.04 L66.57 186.37 L66.67 185.70 L66.78 185.02 L66.88 184.35 L66.99 183.67 L67.09 183.00 L67.20 182.33 L67.30 181.65 L67.41 180.98 L67.51 180.31 L67.62 179.63 L67.72 178.96 L67.83 178.28 L67.93 177.61 L68.04 176.94 L68.15 176.26 L68.25 175.59 L68.36 174.92 L68.46 174.24 L68.57 173.57 L68.67 172.90 L68.78 172.22 L68.88 171.55 L68.99 170.88 L69.09 170.20 L69.20 169.53 L69.31 168.86 L69.41 168.18 L69.52 167.51 L69.62 166.84 L69.73 166.16 L69.84 165.49 L69.94 164.82 L70.05 164.14 L70.16 163.47 L70.26 162.80 L70.37 162.13 L70.48 161.45 L70.59 160.78 L70.69 160.11 L70.80 159.43 L70.91 158.76 L71.02 158.09 L71.13 157.42 L71.24 156.75 L71.35 156.07 L71.46 155.40 L71.57 154.73 L71.67 154.06 L71.79 153.39 L71.90 152.71 L72.01 152.04 L72.12 151.37 L72.23 150.70 L72.34 150.03 L72.45 149.36 L72.56 148.69 L72.68 148.02 L72.79 147.34 L72.90 146.67 L73.01 146.00 L73.13 145.33 L73.24 144.66 L73.36 143.99 L73.47 143.32 L73.59 142.65 L73.70 141.98 L73.82 141.31 L73.93 140.64 L74.05 139.97 L74.17 139.30 L74.28 138.63 L74.40 137.96 L74.52 137.29 L74.64 136.63 L74.76 135.96 L74.87 135.29 L74.99 134.62 L75.11 133.95 L75.23 133.28 L75.36 132.61 L75.48 131.94 L75.60 131.28 L75.72 130.61 L75.84 129.94 L75.97 129.27 L76.09 128.60 L76.21 127.94 L76.34 127.27 L76.46 126.60 L76.59 125.93 L76.71 125.27 L76.84 124.60 L76.97 123.93 L77.09 123.27 L77.22 122.60 L77.35 121.93 L77.48 121.27 L77.61 120.60 L77.74 119.93 L77.87 119.27 L78.00 118.60 L78.13 117.94 L78.26 117.27 L78.40 116.60 L78.53 115.94 L78.66 115.27 L78.80 114.61 L78.93 113.94 L79.07 113.28 L79.20 112.61 L79.34 111.95 L79.48 111.28 L79.62 110.62 L79.75 109.95 L79.89 109.29 L80.03 108.63 L80.17 107.96 L80.31 107.30 L80.46 106.63 L80.60 105.97 L80.74 105.31 L80.88 104.64 L81.03 103.98 L81.17 103.32 L81.32 102.65 L81.47 101.99 L81.61 101.33 L81.76 100.67 L81.91 100.00 L82.06 99.34 L82.21 98.68 L82.36 98.02 L82.51 97.36 L82.66 96.69 L82.81 96.03 L82.97 95.37 L83.12 94.71 L83.27 94.05 L83.43 93.39 L83.59 92.73 L83.74 92.07 L83.90 91.40 L84.06 90.74 L84.22 90.08 L84.38 89.42 L84.54 88.76 L84.70 88.10 L84.86 87.44 L85.03 86.78 L85.19 86.12 L85.36 85.46 L85.52 84.80 L85.69 84.15 L85.86 83.49 L86.02 82.83 L86.19 82.17 L86.36 81.51 L86.53 80.85 L86.70 80.19 L86.88 79.54 L87.05 78.88 L87.22 78.22 L87.40 77.56 L87.58 76.90 L87.75 76.25 L87.93 75.59 L88.11 74.93 L88.29 74.28 L88.47 73.62 L88.65 72.96 L88.83 72.31 L89.01 71.65 L89.20 70.99 L89.38 70.34 L89.57 69.68 L89.76 69.02 L89.94 68.37 L90.13 67.71 L90.32 67.06 L90.51 66.40 L90.71 65.75 L90.90 65.09 L91.09 64.44 L91.29 63.78 L91.48 63.13 L91.68 62.48 L91.88 61.82 L92.07 61.17 L92.27 60.51 L92.47 59.86 L92.68 59.21 L92.88 58.55 L93.08 57.90 L93.29 57.25 L93.50 56.60 L93.71 55.94 L93.92 55.29 L94.13 54.64 L94.34 53.99 L94.56 53.34 L94.77 52.69 L94.99 52.04 L95.22 51.39 L95.44 50.75 L95.67 50.10 L95.90 49.45 L96.13 48.81 L96.36 48.16 L96.60 47.52 L96.84 46.88 L97.08 46.24 L97.33 45.60 L97.58 44.96 L97.83 44.32 L98.09 43.68 L98.34 43.04 L98.61 42.41 L98.87 41.78 L99.14 41.14 L99.42 40.51 L99.69 39.88 L99.97 39.25 L100.26 38.63 L100.55 38.00 L100.84 37.38 L101.14 36.76 L101.44 36.14 L101.75 35.52 L102.06 34.90 L102.38 34.28 L102.70 33.67 L103.02 33.06 L103.36 32.45 L103.69 31.84 L104.03 31.24 L104.38 30.63 L104.73 30.03 L105.09 29.43 L105.45 28.83 L105.82 28.24 L106.19 27.64 L106.57 27.06 L106.96 26.47 L107.35 25.89 L107.74 25.32 L108.15 24.75 L108.56 24.18 L108.97 23.62 L109.40 23.07 L109.83 22.52 L110.26 21.98 L110.70 21.45 L111.15 20.92 L111.61 20.40 L112.07 19.89 L112.54 19.39 L113.02 18.90 L113.50 18.42 L114.00 17.95 L114.50 17.48 L115.00 17.03 L115.51 16.59 L116.03 16.15 L116.56 15.73 L117.09 15.32 L117.63 14.92 L118.18 14.53 L118.73 14.15 L119.28 13.79 L119.85 13.43 L120.41 13.09 L120.99 12.76 L121.57 12.44 L122.15 12.14 L122.74 11.85 L123.33 11.57 L123.93 11.30 L124.53 11.05 L125.14 10.81 L125.75 10.59 L126.37 10.38 L126.99 10.18 L127.61 10.00 L128.24 9.83 L128.87 9.68 L129.50 9.54 L130.14 9.42 L130.78 9.31 L131.42 9.22 L132.07 9.14 L132.72 9.08 L133.37 9.03 L134.02 8.99 L134.68 8.97 L135.33 8.96 L135.99 8.97 L136.65 8.98 L137.31 9.01 L137.96 9.06 L138.62 9.11 L139.28 9.17 L139.94 9.25 L140.60 9.33 L141.26 9.43 L141.92 9.54 L142.58 9.65 L143.23 9.78 L143.88 9.91 L144.54 10.06 L145.19 10.21 L145.83 10.37 L146.48 10.54 L147.12 10.71 L147.77 10.90 L148.41 11.09 L149.04 11.29 L149.68 11.49 L150.31 11.71 L150.95 11.93 L151.58 12.16 L152.20 12.39 L152.83 12.63 L153.46 12.88 L154.08 13.14 L154.70 13.40 L155.32 13.66 L155.94 13.94 L156.56 14.22 L157.17 14.50 L157.78 14.79 L158.40 15.09 L159.01 15.39 L159.61 15.70 L160.22 16.01 L160.83 16.32 L161.43 16.64 L162.03 16.97 L162.64 17.30 L163.24 17.63 L163.84 17.97 L164.43 18.32 L165.03 18.66 L165.62 19.01 L166.22 19.37 L166.81 19.72 L167.40 20.09 L167.99 20.45 L168.58 20.82 L169.17 21.19 L169.75 21.56 L170.34 21.94 L170.92 22.31 L171.51 22.70 L172.09 23.08 L172.67 23.46 L173.25 23.85 L173.83 24.24 L174.41 24.63 L174.99 25.02 L175.57 25.42 L176.14 25.81 L176.72 26.21 L177.29 26.60 L177.87 27.00 L178.44 27.40 L179.01 27.80 L179.58 28.20 L180.15 28.60 L180.73 29.00 L181.30 29.40 L181.86 29.80 L182.43 30.20 L183.00 30.60 L183.57 31.00 L184.14 31.40 L184.70 31.81 L185.27 32.21 L185.83 32.61 L186.40 33.01 L186.96 33.41 L187.53 33.82 L188.09 34.22 L188.65 34.62 L189.21 35.03 L189.78 35.43 L190.34 35.83 L190.90 36.24 L191.46 36.64 L192.02 37.04 L192.58 37.45 L193.14 37.85 L193.70 38.25 L194.25 38.66 L194.81 39.06 L195.37 39.47 L195.93 39.87 L196.48 40.27 L197.04 40.68 L197.59 41.08 L198.15 41.49 L198.70 41.89 L199.26 42.30 L199.81 42.70 L200.37 43.10 L200.92 43.51 L201.47 43.91 L202.03 44.32 L202.58 44.72 L203.13 45.12 L203.69 45.53 L204.24 45.93 L204.79 46.34 L205.34 46.74 L205.89 47.14 L206.44 47.55 L206.99 47.95 L207.54 48.35 L208.10 48.76 L208.65 49.16 L209.20 49.56 L209.75 49.97 L210.30 50.37 L210.84 50.77 L211.39 51.18 L211.94 51.58 L212.49 51.98 L213.04 52.38 L213.59 52.78 L214.14 53.19 L214.69 53.59 L215.24 53.99 L215.79 54.39 L216.33 54.79 L216.88 55.19 L217.43 55.59 L217.98 55.99 L218.53 56.39 L219.08 56.79 L219.62 57.19 L220.17 57.59 L220.72 57.99 L221.27 58.39 L221.82 58.78 L222.37 59.18 L222.91 59.58 L223.46 59.98 L224.01 60.37 L224.56 60.77 L225.11 61.17 L225.66 61.56 L226.21 61.96 L226.75 62.35 L227.30 62.75 L227.85 63.14 L228.40 63.54 L228.95 63.93 L229.50 64.32 L230.05 64.72 L230.60 65.11 L231.15 65.50 L231.70 65.89 L232.25 66.29 L232.80 66.68 L233.35 67.07 L233.90 67.46 L234.45 67.85 L235.01 68.24 L235.56 68.62 L236.11 69.01 L236.66 69.40 L237.21 69.79 L237.77 70.17 L238.32 70.56 L238.87 70.94 L239.43 71.33 L239.98 71.71 L240.54 72.10 L241.09 72.48 L241.64 72.86 L242.20 73.25 L242.76 73.63 L243.31 74.01 L243.87 74.39 L244.42 74.77 L244.98 75.15 L245.54 75.53 L246.10 75.91 L246.66 76.28 L247.21 76.66 L247.77 77.04 L248.33 77.41 L248.89 77.79 L249.45 78.16 L250.01 78.54 L250.58 78.91 L251.14 79.28 L251.70 79.65 L252.26 80.02 L252.83 80.39 L253.39 80.76 L253.96 81.13 L254.52 81.50 L255.09 81.87 L255.65 82.23 L256.22 82.60 L256.79 82.96 L257.35 83.33 L257.92 83.69 L258.49 84.06 L259.06 84.42 L259.63 84.78 L260.20 85.14 L260.77 85.50 L261.35 85.86 L261.92 86.22 L262.49 86.57 L263.07 86.93 L263.64 87.28 L264.22 87.64 L264.79 87.99 L265.37 88.35 L265.95 88.70 L266.53 89.05 L267.11 89.40 L267.69 89.75 L268.27 90.10 L268.85 90.44 L269.43 90.79 L270.01 91.14 L270.60 91.48 L271.18 91.83 L271.77 92.17 L272.35 92.51 L272.94 92.85 L273.53 93.19 L274.12 93.53 L274.71 93.87 L275.30 94.21 L275.89 94.54 L276.48 94.88 L277.07 95.21 L277.67 95.55 L278.26 95.88 L278.86 96.21 L279.45 96.54 L280.05 96.87 L280.65 97.20 L281.25 97.52 L281.85 97.85 L282.45 98.17 L283.05 98.50 L283.66 98.82 L284.26 99.14 L284.86 99.46 L285.47 99.78 L286.08 100.10 L286.69 100.42 L287.30 100.73 L287.91 101.05 L288.52 101.36 L289.13 101.67 L289.74 101.98 L290.36 102.29 L290.97 102.60 L291.59 102.91 L292.21 103.22 L292.83 103.52 L293.45 103.83 L294.07 104.13 L294.69 104.43 L295.31 104.73 L295.94 105.03 L296.56 105.33 L297.19 105.63 L297.82 105.92 L298.45 106.22 L299.08 106.51 L299.71 106.80 L300.34 107.09 L300.98 107.38 L301.61 107.67 L302.25 107.96 L302.89 108.24 L303.53 108.53 L304.17 108.81 L304.81 109.09 L305.45 109.37 L306.10 109.65 L306.74 109.93 L307.39 110.20 L308.04 110.48" fill="none" stroke="#ff0000" stroke-width="1.05" stroke-dasharray="2.7 1.2" stroke-dashoffset="0"/>
<path d="M53.68 258.00 L53.87 257.61 L54.05 257.12 L54.24 256.62 L54.42 256.12 L54.60 255.63 L54.78 255.13 L54.96 254.64 L55.13 254.14 L55.31 253.64 L55.49 253.15 L55.66 252.65 L55.83 252.15 L56.01 251.66 L56.18 251.16 L56.35 250.66 L56.52 250.17 L56.69 249.67 L56.85 249.17 L57.02 248.68 L57.19 248.18 L57.35 247.68 L57.52 247.19 L57.68 246.69 L57.84 246.19 L58.00 245.70 L58.16 245.20 L58.32 244.70 L58.48 244.20 L58.64 243.71 L58.80 243.21 L58.96 242.71 L59.11 242.22 L59.27 241.72 L59.42 241.22 L59.58 240.72 L59.73 240.23 L59.88 239.73 L60.03 239.23 L60.19 238.73 L60.34 238.24 L60.49 237.74 L60.64 237.24 L60.79 236.75 L60.93 236.25 L61.08 235.75 L61.23 235.25 L61.38 234.76 L61.52 234.26 L61.67 233.76 L61.81 233.26 L61.96 232.76 L62.10 232.27 L62.25 231.77 L62.39 231.27 L62.53 230.77 L62.68 230.28 L62.82 229.78 L62.96 229.28 L63.10 228.78 L63.24 228.28 L63.38 227.79 L63.52 227.29 L63.66 226.79 L63.80 226.29 L63.94 225.79 L64.08 225.30 L64.22 224.80 L64.36 224.30 L64.50 223.80 L64.64 223.30 L64.78 222.80 L64.91 222.30 L65.05 221.81 L65.19 221.31 L65.33 220.81 L65.47 220.31 L65.60 219.81 L65.74 219.31 L65.88 218.81 L66.01 218.31 L66.15 217.81 L66.29 217.31 L66.42 216.82 L66.56 216.32 L66.70 215.82 L66.83 215.32 L66.97 214.82 L67.11 214.32 L67.24 213.82 L67.38 213.32 L67.52 212.82 L67.65 212.32 L67.79 211.82 L67.93 211.32 L68.07 210.82 L68.20 210.32 L68.34 209.82 L68.48 209.32 L68.62 208.82 L68.75 208.32 L68.89 207.82 L69.03 207.32 L69.17 206.81 L69.31 206.31 L69.45 205.81 L69.59 205.31 L69.73 204.81 L69.87 204.31 L70.01 203.81 L70.15 203.31 L70.29 202.80 L70.43 202.30 L70.57 201.80 L70.71 201.30 L70.86 200.80 L71.00 200.29 L71.14 199.79 L71.29 199.29 L71.43 198.79 L71.57 198.29 L71.72 197.78 L71.87 197.28 L72.01 196.78 L72.16 196.27 L72.30 195.77 L72.45 195.27 L72.60 194.77 L72.75 194.26 L72.90 193.76 L73.05 193.25 L73.20 192.75 L73.35 192.25 L73.50 191.74 L73.65 191.24 L73.80 190.74 L73.96 190.23 L74.11 189.73 L74.26 189.22 L74.42 188.72 L74.57 188.22 L74.72 187.71 L74.88 187.21 L75.03 186.71 L75.19 186.20 L75.35 185.70 L75.50 185.19 L75.66 184.69 L75.82 184.19 L75.97 183.68 L76.13 183.18 L76.29 182.68 L76.45 182.17 L76.61 181.67 L76.77 181.17 L76.93 180.66 L77.09 180.16 L77.25 179.66 L77.41 179.15 L77.57 178.65 L77.73 178.15 L77.89 177.65 L78.05 177.14 L78.21 176.64 L78.38 176.14 L78.54 175.64 L78.70 175.14 L78.86 174.64 L79.03 174.14 L79.19 173.63 L79.35 173.13 L79.52 172.63 L79.68 172.13 L79.84 171.63 L80.01 171.13 L80.17 170.63 L80.34 170.14 L80.50 169.64 L80.67 169.14 L80.83 168.64 L81.00 168.14 L81.16 167.64 L81.33 167.15 L81.49 166.65 L81.66 166.15 L81.83 165.66 L82.00 165.16 L82.17 164.66 L82.33 164.17 L82.50 163.67 L82.67 163.18 L82.85 162.69 L83.02 162.19 L83.19 161.70 L83.36 161.21 L83.54 160.71 L83.71 160.22 L83.89 159.73 L84.06 159.24 L84.24 158.75 L84.42 158.26 L84.60 157.77 L84.78 157.28 L84.96 156.79 L85.14 156.30 L85.32 155.81 L85.51 155.32 L85.69 154.83 L85.88 154.35 L86.07 153.86 L86.26 153.38 L86.45 152.89 L86.64 152.41 L86.83 151.92 L87.02 151.44 L87.22 150.96 L87.42 150.47 L87.61 149.99 L87.81 149.51 L88.02 149.03 L88.22 148.55 L88.42 148.07 L88.63 147.59 L88.84 147.11 L89.05 146.64 L89.26 146.16 L89.47 145.68 L89.68 145.21 L89.90 144.73 L90.12 144.26 L90.34 143.78 L90.56 143.31 L90.79 142.84 L91.01 142.37 L91.24 141.90 L91.47 141.43 L91.70 140.96 L91.94 140.49 L92.17 140.02 L92.41 139.55 L92.65 139.09 L92.90 138.62 L93.14 138.15 L93.39 137.69 L93.64 137.23 L93.89 136.76 L94.15 136.30 L94.41 135.84 L94.67 135.38 L94.93 134.92 L95.20 134.46 L95.46 134.00 L95.73 133.55 L96.01 133.09 L96.28 132.64 L96.56 132.18 L96.84 131.73 L97.13 131.28 L97.41 130.83 L97.70 130.38 L97.99 129.94 L98.29 129.49 L98.58 129.05 L98.88 128.61 L99.19 128.17 L99.49 127.73 L99.80 127.29 L100.11 126.86 L100.42 126.42 L100.73 125.99 L101.05 125.57 L101.37 125.14 L101.69 124.72 L102.02 124.30 L102.34 123.88 L102.67 123.46 L103.01 123.05 L103.34 122.64 L103.68 122.23 L104.02 121.82 L104.36 121.42 L104.71 121.02 L105.06 120.62 L105.41 120.23 L105.76 119.83 L106.11 119.45 L106.47 119.06 L106.83 118.68 L107.20 118.30 L107.56 117.92 L107.93 117.55 L108.30 117.18 L108.67 116.82 L109.05 116.46 L109.43 116.10 L109.81 115.74 L110.19 115.39 L110.58 115.05 L110.97 114.70 L111.36 114.36 L111.75 114.03 L112.15 113.70 L112.55 113.37 L112.95 113.05 L113.35 112.73 L113.76 112.42 L114.17 112.11 L114.58 111.80 L114.99 111.50 L115.41 111.21 L115.83 110.91 L116.25 110.63 L116.67 110.35 L117.10 110.07 L117.53 109.80 L117.96 109.53 L118.39 109.27 L118.83 109.01 L119.27 108.76 L119.71 108.51 L120.15 108.27 L120.60 108.03 L121.05 107.80 L121.50 107.58 L121.95 107.36 L122.41 107.14 L122.87 106.94 L123.33 106.73 L123.79 106.54 L124.26 106.34 L124.73 106.16 L125.20 105.98 L125.67 105.80 L126.15 105.63 L126.63 105.47 L127.11 105.31 L127.59 105.16 L128.07 105.01 L128.56 104.87 L129.04 104.73 L129.53 104.60 L130.02 104.47 L130.52 104.35 L131.01 104.23 L131.51 104.11 L132.01 104.01 L132.51 103.90 L133.01 103.81 L133.51 103.71 L134.01 103.63 L134.52 103.54 L135.02 103.46 L135.53 103.39 L136.04 103.32 L136.55 103.25 L137.06 103.19 L137.58 103.14 L138.09 103.09 L138.60 103.04 L139.12 103.00 L139.64 102.96 L140.15 102.92 L140.67 102.89 L141.19 102.87 L141.71 102.84 L142.23 102.83 L142.75 102.81 L143.27 102.80 L143.79 102.80 L144.31 102.80 L144.84 102.80 L145.36 102.81 L145.88 102.82 L146.41 102.83 L146.93 102.85 L147.45 102.87 L147.98 102.89 L148.50 102.92 L149.03 102.95 L149.55 102.99 L150.07 103.03 L150.60 103.07 L151.12 103.12 L151.64 103.16 L152.17 103.22 L152.69 103.27 L153.21 103.33 L153.73 103.39 L154.26 103.46 L154.78 103.53 L155.30 103.60 L155.82 103.67 L156.34 103.75 L156.85 103.83 L157.37 103.92 L157.89 104.00 L158.41 104.09 L158.92 104.18 L159.44 104.28 L159.96 104.38 L160.47 104.48 L160.99 104.58 L161.50 104.68 L162.01 104.79 L162.53 104.90 L163.04 105.01 L163.55 105.13 L164.06 105.25 L164.57 105.37 L165.09 105.49 L165.60 105.61 L166.11 105.74 L166.62 105.87 L167.12 106.00 L167.63 106.13 L168.14 106.27 L168.65 106.40 L169.16 106.54 L169.66 106.68 L170.17 106.83 L170.68 106.97 L171.18 107.12 L171.69 107.27 L172.19 107.41 L172.70 107.57 L173.20 107.72 L173.71 107.87 L174.21 108.03 L174.71 108.19 L175.22 108.35 L175.72 108.51 L176.22 108.67 L176.72 108.83 L177.22 109.00 L177.72 109.16 L178.23 109.33 L178.73 109.50 L179.23 109.67 L179.73 109.84 L180.23 110.01 L180.73 110.18 L181.23 110.36 L181.72 110.53 L182.22 110.71 L182.72 110.88 L183.22 111.06 L183.72 111.24 L184.22 111.41 L184.71 111.59 L185.21 111.77 L185.71 111.95 L186.20 112.13 L186.70 112.32 L187.20 112.50 L187.69 112.68 L188.19 112.86 L188.68 113.04 L189.18 113.23 L189.68 113.41 L190.17 113.60 L190.67 113.78 L191.16 113.96 L191.66 114.15 L192.15 114.33 L192.65 114.52 L193.14 114.70 L193.63 114.88 L194.13 115.07 L194.62 115.25 L195.12 115.44 L195.61 115.62 L196.10 115.80 L196.60 115.99 L197.09 116.17 L197.58 116.36 L198.08 116.54 L198.57 116.72 L199.06 116.91 L199.55 117.09 L200.05 117.28 L200.54 117.46 L201.03 117.64 L201.52 117.83 L202.02 118.01 L202.51 118.19 L203.00 118.38 L203.49 118.56 L203.98 118.74 L204.48 118.93 L204.97 119.11 L205.46 119.29 L205.95 119.48 L206.44 119.66 L206.93 119.84 L207.42 120.03 L207.91 120.21 L208.41 120.39 L208.90 120.58 L209.39 120.76 L209.88 120.94 L210.37 121.13 L210.86 121.31 L211.35 121.49 L211.84 121.67 L212.33 121.86 L212.82 122.04 L213.31 122.22 L213.80 122.40 L214.29 122.59 L214.78 122.77 L215.27 122.95 L215.76 123.13 L216.25 123.32 L216.74 123.50 L217.23 123.68 L217.72 123.86 L218.21 124.04 L218.70 124.23 L219.19 124.41 L219.68 124.59 L220.17 124.77 L220.66 124.95 L221.14 125.13 L221.63 125.31 L222.12 125.50 L222.61 125.68 L223.10 125.86 L223.59 126.04 L224.08 126.22 L224.57 126.40 L225.06 126.58 L225.55 126.76 L226.03 126.94 L226.52 127.12 L227.01 127.30 L227.50 127.48 L227.99 127.66 L228.48 127.84 L228.97 128.02 L229.46 128.20 L229.95 128.38 L230.43 128.56 L230.92 128.74 L231.41 128.92 L231.90 129.10 L232.39 129.28 L232.88 129.46 L233.37 129.64 L233.85 129.82 L234.34 130.00 L234.83 130.18 L235.32 130.36 L235.81 130.53 L236.30 130.71 L236.79 130.89 L237.28 131.07 L237.76 131.25 L238.25 131.43 L238.74 131.60 L239.23 131.78 L239.72 131.96 L240.21 132.14 L240.70 132.32 L241.19 132.49 L241.67 132.67 L242.16 132.85 L242.65 133.02 L243.14 133.20 L243.63 133.38 L244.12 133.55 L244.61 133.73 L245.10 133.91 L245.59 134.08 L246.08 134.26 L246.57 134.44 L247.05 134.61 L247.54 134.79 L248.03 134.96 L248.52 135.14 L249.01 135.31 L249.50 135.49 L249.99 135.66 L250.48 135.84 L250.97 136.01 L251.46 136.19 L251.95 136.36 L252.44 136.54 L252.93 136.71 L253.42 136.89 L253.91 137.06 L254.40 137.24 L254.89 137.41 L255.38 137.58 L255.87 137.76 L256.36 137.93 L256.85 138.10 L257.34 138.28 L257.83 138.45 L258.32 138.62 L258.81 138.79 L259.30 138.97 L259.80 139.14 L260.29 139.31 L260.78 139.48 L261.27 139.65 L261.76 139.83 L262.25 140.00 L262.74 140.17 L263.24 140.34 L263.73 140.51 L264.22 140.68 L264.71 140.85 L265.20 141.02 L265.69 141.19 L266.19 141.36 L266.68 141.53 L267.17 141.70 L267.66 141.87 L268.16 142.04 L268.65 142.21 L269.14 142.38 L269.64 142.55 L270.13 142.72 L270.62 142.89 L271.12 143.05 L271.61 143.22 L272.10 143.39 L272.60 143.56 L273.09 143.73 L273.58 143.89 L274.08 144.06 L274.57 144.23 L275.07 144.39 L275.56 144.56 L276.06 144.73 L276.55 144.89 L277.05 145.06 L277.54 145.23 L278.04 145.39 L278.53 145.56 L279.03 145.72 L279.52 145.89 L280.02 146.05 L280.52 146.22 L281.01 146.38 L281.51 146.55 L282.01 146.71 L282.50 146.88 L283.00 147.04 L283.50 147.20 L283.99 147.37 L284.49 147.53 L284.99 147.69 L285.49 147.86 L285.98 148.02 L286.48 148.18 L286.98 148.34 L287.48 148.51 L287.98 148.67 L288.48 148.83 L288.97 148.99 L289.47 149.15 L289.97 149.31 L290.47 149.47 L290.97 149.63 L291.47 149.79 L291.97 149.95 L292.47 150.11 L292.97 150.27 L293.47 150.43 L293.97 150.59 L294.48 150.75 L294.98 150.91 L295.48 151.07 L295.98 151.23 L296.48 151.38 L296.98 151.54 L297.49 151.70 L297.99 151.86 L298.49 152.01 L298.99 152.17 L299.50 152.33 L300.00 152.48 L300.51 152.64 L301.01 152.80 L301.51 152.95 L302.02 153.11 L302.52 153.26 L303.03 153.42 L303.53 153.57 L304.04 153.73 L304.54 153.88 L305.05 154.03 L305.55 154.19 L306.06 154.34 L306.57 154.49 L307.07 154.65 L307.58 154.80 L308.09 154.95 L308.59 155.10" fill="none" stroke="#0a0a0a" stroke-width="1.15"/>
<rect x="50.55" y="-0.15" width="258.0" height="258.59999999999997" fill="none" stroke="#808080" stroke-width="0.9"/>
<text transform="translate(77.40 276.7) scale(1 1.115)" text-anchor="middle" class="t">400</text>
<text transform="translate(115.97 276.7) scale(1 1.115)" text-anchor="middle" class="t">500</text>
<text transform="translate(154.54 276.7) scale(1 1.115)" text-anchor="middle" class="t">600</text>
<text transform="translate(193.11 276.7) scale(1 1.115)" text-anchor="middle" class="t">700</text>
<text transform="translate(231.68 276.7) scale(1 1.115)" text-anchor="middle" class="t">800</text>
<text transform="translate(270.25 276.7) scale(1 1.115)" text-anchor="middle" class="t">900</text>
<text transform="translate(308.82 276.7) scale(1 1.115)" text-anchor="middle" class="t">1000</text>
<text transform="translate(45.5 220.86) scale(1 1.115)" text-anchor="end" class="t">0.05</text>
<text transform="translate(45.5 177.77) scale(1 1.115)" text-anchor="end" class="t">0.1</text>
<text transform="translate(45.5 134.68) scale(1 1.115)" text-anchor="end" class="t">0.15</text>
<text transform="translate(45.5 91.59) scale(1 1.115)" text-anchor="end" class="t">0.2</text>
<text transform="translate(45.5 48.50) scale(1 1.115)" text-anchor="end" class="t">0.25</text>
<text transform="translate(162.7 297.7) scale(1 1.1)" class="a">s</text>
<text transform="translate(171.0 297.9) scale(1 1.08)" class="a" style="font-size:15.3px">[GeV]</text>
<path d="M150.3 291.7 L152.5 290.3" fill="none" stroke="#000" stroke-width="0.8"/>
<path d="M152.3 290.2 L156.7 298.6" fill="none" stroke="#000" stroke-width="1.6"/>
<path d="M156.7 299 L161 283.2 H170.3" fill="none" stroke="#000" stroke-width="0.8"/>
<text transform="translate(10.9 177.4) rotate(-90) scale(1.3 1)" class="a" style="font-style:italic;font-size:15.6px">σ</text>
<text transform="translate(10.4 165.6) rotate(-90) scale(1 1.06)" class="a">(ee</text>
<path d="M6.6 146 V135.4 M3.6 138.6 Q6 137.6 6.6 135.2 Q7.2 137.6 9.8 138.6" fill="none" stroke="#000" stroke-width="0.8"/>
<text transform="translate(10.4 134) rotate(-90) scale(1 1.06)" class="a">hhZ)[fb]</text>
<text x="235" y="187.9" text-anchor="middle" class="m">mh=120GeV</text>
<path d="M202.4 196.9 H218.6" stroke="#969696" stroke-width="1.5" fill="none"/>
<text x="228.1" y="200.0" class="m">SM</text>
<path d="M202.4 209.35 H218.6" stroke="#ff3030" stroke-width="0.9" stroke-dasharray="3.0 1.0" fill="none"/>
<text x="228.1" y="212.0" class="m"><tspan font-style="italic" font-size="10.1">δκ</tspan>=+1</text>
<path d="M202.4 221.6 H218.6" stroke="#ff9a30" stroke-width="0.9" stroke-dasharray="3.0 1.0" fill="none"/>
<text x="228.1" y="224.4" class="m"><tspan font-style="italic" font-size="10.1">δκ</tspan>=+0.2</text>
<path d="M202.4 234.0 H218.6" stroke="#78bd78" stroke-width="1.0" stroke-dasharray="4.6 3.2" fill="none"/>
<text x="228.1" y="236.6" class="m"><tspan font-style="italic" font-size="10.1">δκ</tspan>=-0.2</text>
<path d="M202.4 245.6 H218.6" stroke="#3030ff" stroke-width="0.9" stroke-dasharray="4.6 3.2" fill="none"/>
<text x="228.1" y="248.9" class="m"><tspan font-style="italic" font-size="10.1">δκ</tspan>=-1</text>
</svg>
</body></html>
